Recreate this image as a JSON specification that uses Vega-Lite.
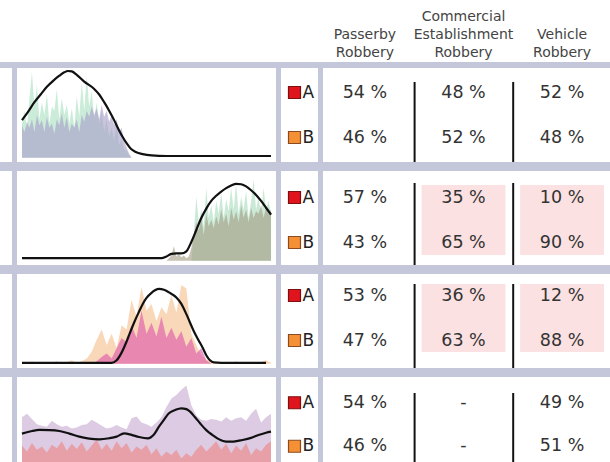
{
"$schema": "https://vega.github.io/schema/vega-lite/v6.json",
"background": "#c4c7d9",
"padding": 0,
"config": {"view": {"fill": "white", "stroke": null}, "font": "DejaVu Sans"},
"datasets": {
"a1": [
{"x":0,"1b":38,"1a":40},{"x":1,"1b":30,"1a":55},{"x":2,"1b":42,"1a":35},{"x":3,"1b":35,"1a":70},{"x":4,"1b":45,"1a":100},
{"x":5,"1b":30,"1a":60},{"x":6,"1b":50,"1a":85},{"x":7,"1b":38,"1a":45},{"x":8,"1b":44,"1a":65},{"x":9,"1b":30,"1a":50},
{"x":10,"1b":48,"1a":75},{"x":11,"1b":35,"1a":40},{"x":12,"1b":40,"1a":60},{"x":13,"1b":28,"1a":55},{"x":14,"1b":45,"1a":80},
{"x":15,"1b":38,"1a":45},{"x":16,"1b":52,"1a":70},{"x":17,"1b":35,"1a":50},{"x":18,"1b":48,"1a":62},{"x":19,"1b":30,"1a":40},
{"x":20,"1b":40,"1a":58},{"x":21,"1b":35,"1a":35},{"x":22,"1b":45,"1a":72},{"x":23,"1b":30,"1a":48},{"x":24,"1b":50,"1a":88},
{"x":25,"1b":42,"1a":55},{"x":26,"1b":55,"1a":95},{"x":27,"1b":48,"1a":60},{"x":28,"1b":60,"1a":78},{"x":29,"1b":50,"1a":45},
{"x":30,"1b":58,"1a":65},{"x":31,"1b":45,"1a":40},{"x":32,"1b":62,"1a":55},{"x":33,"1b":48,"1a":30},{"x":34,"1b":55,"1a":45},
{"x":35,"1b":42,"1a":25},{"x":36,"1b":50,"1a":35},{"x":37,"1b":38,"1a":20},{"x":38,"1b":45,"1a":42},{"x":39,"1b":30,"1a":15},
{"x":40,"1b":35,"1a":22},{"x":41,"1b":20,"1a":10},{"x":42,"1b":12,"1a":8},{"x":43,"1b":5,"1a":3},{"x":44,"1b":0,"1a":0}
],
"c1": [
{"x":0,"v":44},{"x":2.5,"v":54},{"x":5,"v":65},{"x":7.5,"v":74},{"x":10,"v":83},{"x":12.5,"v":90},{"x":15,"v":96},{"x":17,"v":100},
{"x":18.5,"v":101.5},{"x":20,"v":101},{"x":22,"v":97},{"x":25,"v":89},{"x":29,"v":80.5},{"x":31,"v":74},{"x":33,"v":65},{"x":35,"v":55},
{"x":37,"v":44},{"x":39,"v":32},{"x":40.5,"v":24},{"x":42,"v":17},{"x":43.7,"v":10.5},{"x":45.7,"v":6.7},{"x":48.5,"v":4.2},{"x":52,"v":2.7},
{"x":58,"v":2},{"x":100,"v":2}
],
"a2": [
{"x":58,"2a":0,"2b":0},{"x":59,"2a":0,"2b":3},{"x":60,"2a":0,"2b":6},{"x":61,"2a":0,"2b":17},{"x":62,"2a":0,"2b":5},
{"x":63,"2a":0,"2b":8},{"x":64,"2a":0,"2b":4},{"x":65,"2a":0,"2b":6},{"x":66,"2a":0,"2b":3},{"x":67,"2a":0,"2b":5},
{"x":68,"2a":0,"2b":15},{"x":69,"2a":30,"2b":30},{"x":70,"2a":75,"2b":45},{"x":71,"2a":45,"2b":35},{"x":72,"2a":60,"2b":50},
{"x":73,"2a":40,"2b":30},{"x":74,"2a":85,"2b":55},{"x":75,"2a":50,"2b":40},{"x":76,"2a":65,"2b":48},{"x":77,"2a":45,"2b":38},
{"x":78,"2a":70,"2b":52},{"x":79,"2a":55,"2b":42},{"x":80,"2a":80,"2b":60},{"x":81,"2a":50,"2b":45},{"x":82,"2a":72,"2b":55},
{"x":83,"2a":58,"2b":40},{"x":84,"2a":85,"2b":62},{"x":85,"2a":60,"2b":48},{"x":86,"2a":90,"2b":58},{"x":87,"2a":55,"2b":45},
{"x":88,"2a":75,"2b":65},{"x":89,"2a":60,"2b":50},{"x":90,"2a":82,"2b":60},{"x":91,"2a":50,"2b":45},{"x":92,"2a":70,"2b":62},
{"x":93,"2a":95,"2b":50},{"x":94,"2a":60,"2b":58},{"x":95,"2a":75,"2b":55},{"x":96,"2a":55,"2b":65},{"x":97,"2a":85,"2b":50},
{"x":98,"2a":60,"2b":62},{"x":99,"2a":70,"2b":55},{"x":100,"2a":55,"2b":60}
],
"c2": [
{"x":0,"v":3},{"x":56,"v":3},{"x":58,"v":5},{"x":60,"v":8},{"x":62,"v":8.5},{"x":64,"v":8.5},{"x":66,"v":11},{"x":68,"v":22},
{"x":70,"v":36},{"x":72,"v":50},{"x":74,"v":61},{"x":76,"v":70},{"x":78,"v":76},{"x":80,"v":81},{"x":82,"v":85},{"x":84,"v":88},
{"x":86,"v":90},{"x":88,"v":89.5},{"x":90,"v":87},{"x":92,"v":82.5},{"x":94,"v":77},{"x":96,"v":70},{"x":98,"v":62},{"x":100,"v":54}
],
"a3": [
{"x":0,"3a":1,"3b":0},{"x":2,"3a":0,"3b":0},{"x":4,"3a":3,"3b":0},{"x":6,"3a":0,"3b":0},{"x":8,"3a":2,"3b":0},
{"x":10,"3a":0,"3b":0},{"x":12,"3a":1,"3b":0},{"x":14,"3a":3,"3b":0},{"x":16,"3a":0,"3b":0},{"x":18,"3a":2,"3b":0},
{"x":20,"3a":4,"3b":0},{"x":22,"3a":1,"3b":0},{"x":24,"3a":3,"3b":0},{"x":26,"3a":6,"3b":0},{"x":28,"3a":14,"3b":0},
{"x":30,"3a":28,"3b":3},{"x":32,"3a":40,"3b":8},{"x":34,"3a":22,"3b":12},{"x":36,"3a":35,"3b":6},{"x":38,"3a":18,"3b":18},
{"x":40,"3a":45,"3b":30},{"x":42,"3a":40,"3b":25},{"x":44,"3a":75,"3b":45},{"x":46,"3a":55,"3b":30},{"x":48,"3a":90,"3b":62},
{"x":50,"3a":62,"3b":35},{"x":52,"3a":70,"3b":48},{"x":54,"3a":50,"3b":32},{"x":56,"3a":66,"3b":55},{"x":58,"3a":58,"3b":30},
{"x":60,"3a":80,"3b":42},{"x":62,"3a":60,"3b":28},{"x":64,"3a":92,"3b":38},{"x":66,"3a":88,"3b":20},{"x":68,"3a":35,"3b":30},
{"x":70,"3a":22,"3b":12},{"x":72,"3a":10,"3b":18},{"x":74,"3a":5,"3b":4},{"x":76,"3a":3,"3b":0},{"x":78,"3a":1,"3b":0},
{"x":80,"3a":2,"3b":0},{"x":82,"3a":0,"3b":0},{"x":84,"3a":1,"3b":0},{"x":86,"3a":3,"3b":0},{"x":88,"3a":0,"3b":0},
{"x":90,"3a":2,"3b":0},{"x":92,"3a":1,"3b":0},{"x":94,"3a":0,"3b":0},{"x":96,"3a":2,"3b":0},{"x":98,"3a":4,"3b":0},{"x":100,"3a":1,"3b":0}
],
"c3": [
{"x":0,"v":1},{"x":36,"v":1},{"x":38,"v":4},{"x":40,"v":13},{"x":42,"v":26},{"x":43.2,"v":35},{"x":45,"v":48},{"x":47,"v":61},
{"x":48.5,"v":70},{"x":50,"v":77},{"x":52,"v":83},{"x":55,"v":87.5},{"x":57,"v":86.5},{"x":59,"v":83.5},{"x":62,"v":77.5},
{"x":64,"v":70},{"x":66,"v":58},{"x":67.2,"v":50},{"x":69,"v":38},{"x":71,"v":27},{"x":72.5,"v":19},{"x":74,"v":10},
{"x":75.5,"v":4},{"x":77,"v":1.5},{"x":80,"v":1},{"x":98,"v":1}
],
"a4": [
{"x":0,"4a":58,"4b":25},{"x":2,"4a":62,"4b":18},{"x":4,"4a":56,"4b":28},{"x":6,"4a":50,"4b":20},{"x":8,"4a":48,"4b":24},
{"x":10,"4a":47,"4b":17},{"x":12,"4a":54,"4b":26},{"x":14,"4a":50,"4b":22},{"x":16,"4a":47,"4b":30},{"x":18,"4a":48,"4b":19},
{"x":20,"4a":45,"4b":27},{"x":22,"4a":46,"4b":21},{"x":24,"4a":49,"4b":29},{"x":26,"4a":50,"4b":18},{"x":28,"4a":55,"4b":25},
{"x":30,"4a":52,"4b":32},{"x":32,"4a":48,"4b":20},{"x":34,"4a":45,"4b":27},{"x":36,"4a":46,"4b":19},{"x":38,"4a":49,"4b":30},
{"x":40,"4a":46,"4b":22},{"x":42,"4a":44,"4b":28},{"x":44,"4a":57,"4b":17},{"x":46,"4a":59,"4b":24},{"x":48,"4a":52,"4b":20},
{"x":50,"4a":50,"4b":26},{"x":52,"4a":47,"4b":15},{"x":54,"4a":52,"4b":22},{"x":56,"4a":58,"4b":12},{"x":58,"4a":70,"4b":18},
{"x":60,"4a":80,"4b":14},{"x":62,"4a":84,"4b":20},{"x":64,"4a":90,"4b":10},{"x":66,"4a":95,"4b":16},{"x":68,"4a":72,"4b":12},
{"x":70,"4a":60,"4b":20},{"x":72,"4a":55,"4b":26},{"x":74,"4a":54,"4b":18},{"x":76,"4a":56,"4b":24},{"x":78,"4a":55,"4b":30},
{"x":80,"4a":53,"4b":20},{"x":82,"4a":58,"4b":27},{"x":84,"4a":54,"4b":16},{"x":86,"4a":57,"4b":25},{"x":88,"4a":58,"4b":19},
{"x":90,"4a":54,"4b":28},{"x":92,"4a":62,"4b":14},{"x":94,"4a":68,"4b":22},{"x":96,"4a":52,"4b":18},{"x":98,"4a":58,"4b":26},{"x":100,"4a":62,"4b":30}
],
"c4": [
{"x":0,"v":39},{"x":4,"v":42},{"x":7,"v":43.2},{"x":11,"v":43},{"x":15,"v":42},{"x":19,"v":39},{"x":23,"v":35.4},{"x":27,"v":33},
{"x":31,"v":32.3},{"x":35,"v":33.5},{"x":38,"v":35.4},{"x":41,"v":39.3},{"x":44,"v":37.5},{"x":47,"v":35},{"x":50.5,"v":33.5},
{"x":53,"v":38},{"x":55,"v":47},{"x":57,"v":55},{"x":59,"v":62.7},{"x":61.5,"v":66.5},{"x":64,"v":68.5},{"x":66,"v":67.5},
{"x":67.5,"v":64.6},{"x":69.5,"v":58},{"x":71.5,"v":51},{"x":74,"v":43},{"x":76.5,"v":37.3},{"x":79,"v":32.5},{"x":82,"v":29.5},
{"x":85,"v":29.7},{"x":88.5,"v":31.5},{"x":92,"v":34},{"x":95,"v":37.3},{"x":98,"v":40},{"x":100,"v":41.2}
],
"tbl": [
{"r":1,"c":"Passerby Robbery","g":"A","t":"54 %"},{"r":1,"c":"Passerby Robbery","g":"B","t":"46 %"},
{"r":1,"c":"Commercial Establishment Robbery","g":"A","t":"48 %"},{"r":1,"c":"Commercial Establishment Robbery","g":"B","t":"52 %"},
{"r":1,"c":"Vehicle Robbery","g":"A","t":"52 %"},{"r":1,"c":"Vehicle Robbery","g":"B","t":"48 %"},
{"r":2,"c":"Passerby Robbery","g":"A","t":"57 %"},{"r":2,"c":"Passerby Robbery","g":"B","t":"43 %"},
{"r":2,"c":"Commercial Establishment Robbery","g":"A","t":"35 %","hl":true},{"r":2,"c":"Commercial Establishment Robbery","g":"B","t":"65 %","hl":true},
{"r":2,"c":"Vehicle Robbery","g":"A","t":"10 %","hl":true},{"r":2,"c":"Vehicle Robbery","g":"B","t":"90 %","hl":true},
{"r":3,"c":"Passerby Robbery","g":"A","t":"53 %"},{"r":3,"c":"Passerby Robbery","g":"B","t":"47 %"},
{"r":3,"c":"Commercial Establishment Robbery","g":"A","t":"36 %","hl":true},{"r":3,"c":"Commercial Establishment Robbery","g":"B","t":"63 %","hl":true},
{"r":3,"c":"Vehicle Robbery","g":"A","t":"12 %","hl":true},{"r":3,"c":"Vehicle Robbery","g":"B","t":"88 %","hl":true},
{"r":4,"c":"Passerby Robbery","g":"A","t":"54 %"},{"r":4,"c":"Passerby Robbery","g":"B","t":"46 %"},
{"r":4,"c":"Commercial Establishment Robbery","g":"A","t":"-"},{"r":4,"c":"Commercial Establishment Robbery","g":"B","t":"-"},
{"r":4,"c":"Vehicle Robbery","g":"A","t":"49 %"},{"r":4,"c":"Vehicle Robbery","g":"B","t":"51 %"}
],
"hdr": [
{"c":"Passerby Robbery","w":"Passerby","ln":1},{"c":"Passerby Robbery","w":"Robbery","ln":0},
{"c":"Commercial Establishment Robbery","w":"Commercial","ln":2},{"c":"Commercial Establishment Robbery","w":"Establishment","ln":1},
{"c":"Commercial Establishment Robbery","w":"Robbery","ln":0},
{"c":"Vehicle Robbery","w":"Vehicle","ln":1},{"c":"Vehicle Robbery","w":"Robbery","ln":0}
],
"lg": [{"g":"A"},{"g":"B"}],
"blank": [{}]
},
"spacing": 4,
"vconcat": [
{"spacing": 0, "hconcat": [
  {"width": 323, "height": 62, "data": {"name": "blank"}, "mark": {"type": "rect", "color": "white"}, "encoding": {}},
  {"width": 287, "height": 62, "data": {"name": "hdr"},
   "mark": {"type": "text", "baseline": "middle", "fontSize": 14, "font": "DejaVu Sans", "color": "#444444"},
   "encoding": {"x": {"field": "c", "type": "nominal", "scale": {"type": "band", "domain": ["Passerby Robbery","Commercial Establishment Robbery","Vehicle Robbery"], "range": [0, 281], "paddingInner": 0.15, "paddingOuter": 0}, "axis": null},
                "y": {"field": "ln", "type": "ordinal", "scale": {"type": "point", "domain": [2, 1, 0], "range": [17, 53], "padding": 0}, "axis": null},
                "text": {"field": "w"}}}
]},
{"spacing": 8, "vconcat": [
 {"spacing": 5, "hconcat": [
  {"width": 12, "height": 94, "data": {"name": "blank"}, "mark": {"type": "rect", "color": "white"}, "encoding": {}},
  {"width": 259, "height": 94, "layer": [
    {"data": {"name": "a1"}, "transform": [{"fold": ["1a","1b"], "as": ["s","v"]}],
     "mark": {"type": "area", "opacity": 0.6},
     "encoding": {"x": {"field": "x", "type": "quantitative", "scale": {"domain": [-2, 102], "nice": false}, "axis": null},
                  "y": {"field": "v", "type": "quantitative", "stack": null, "scale": {"domain": [-5, 105], "nice": false}, "axis": null},
                  "color": {"field": "s", "type": "nominal", "legend": null, "scale": {"domain": ["1a","1b","2a","2b","3a","3b","4a","4b"], "range": ["#a8e0c0","#a89cc8","#a6dcbc","#a29a80","#f5bd8a","#dc52aa","#c5a8d0","#f08381"]}}}},
    {"data": {"name": "c1"}, "mark": {"type": "line", "color": "#111111", "strokeWidth": 2.2, "interpolate": "monotone"},
     "encoding": {"x": {"field": "x", "type": "quantitative"}, "y": {"field": "v", "type": "quantitative"}}}
  ]},
  {"width": 37, "height": 94, "data": {"name": "lg"}, "layer": [
    {"mark": {"type": "point", "shape": "square", "size": 144, "filled": true, "opacity": 1, "strokeWidth": 1.2, "xOffset": -5},
     "encoding": {"y": {"field": "g", "type": "nominal", "scale": {"domain": ["A","B"], "range": [2, 92], "padding": 0.5}, "axis": null},
                  "fill": {"field": "g", "type": "nominal", "legend": null, "scale": {"domain": ["A","B"], "range": ["#e0141d","#f59035"]}},
                  "stroke": {"field": "g", "type": "nominal", "legend": null, "scale": {"domain": ["A","B"], "range": ["#7b1010","#8a4b20"]}}}},
    {"mark": {"type": "text", "align": "left", "dx": 3, "fontSize": 17, "font": "DejaVu Sans", "color": "#222222"},
     "encoding": {"y": {"field": "g", "type": "nominal"}, "text": {"field": "g"}}}
  ]},
  {"width": 287, "height": 94, "data": {"name": "tbl"}, "transform": [{"filter": "datum.r == 1"}],
   "encoding": {"x": {"field": "c", "type": "nominal", "scale": {"type": "band", "domain": ["Passerby Robbery","Commercial Establishment Robbery","Vehicle Robbery"], "range": [0, 281], "paddingInner": 0.15, "paddingOuter": 0}, "axis": null}},
   "layer": [
    {"transform": [{"filter": "datum.g == 'A' && datum.c != 'Passerby Robbery'"}], "mark": {"type": "rule", "color": "#111111", "strokeWidth": 2, "xOffset": -7, "yOffset": 14, "y2Offset": -13},
     "encoding": {"x": {"field": "c", "type": "nominal", "bandPosition": 0}}},
    {"mark": {"type": "text", "fontSize": 17.5, "font": "DejaVu Sans", "color": "#333333"},
     "encoding": {"y": {"field": "g", "type": "nominal", "scale": {"domain": ["A","B"], "range": [2, 92], "padding": 0.5}, "axis": null}, "text": {"field": "t"}}}
   ]}
 ]},
 {"spacing": 5, "hconcat": [
  {"width": 12, "height": 94, "data": {"name": "blank"}, "mark": {"type": "rect", "color": "white"}, "encoding": {}},
  {"width": 259, "height": 94, "layer": [
    {"data": {"name": "a2"}, "transform": [{"fold": ["2a","2b"], "as": ["s","v"]}],
     "mark": {"type": "area", "opacity": 0.6},
     "encoding": {"x": {"field": "x", "type": "quantitative", "scale": {"domain": [-2, 102], "nice": false}, "axis": null},
                  "y": {"field": "v", "type": "quantitative", "stack": null, "scale": {"domain": [-5, 105], "nice": false}, "axis": null},
                  "color": {"field": "s", "type": "nominal", "legend": null, "scale": {"domain": ["1a","1b","2a","2b","3a","3b","4a","4b"], "range": ["#a8e0c0","#a89cc8","#a6dcbc","#a29a80","#f5bd8a","#dc52aa","#c5a8d0","#f08381"]}}}},
    {"data": {"name": "c2"}, "mark": {"type": "line", "color": "#111111", "strokeWidth": 2.2, "interpolate": "monotone"},
     "encoding": {"x": {"field": "x", "type": "quantitative"}, "y": {"field": "v", "type": "quantitative"}}}
  ]},
  {"width": 37, "height": 94, "data": {"name": "lg"}, "layer": [
    {"mark": {"type": "point", "shape": "square", "size": 144, "filled": true, "opacity": 1, "strokeWidth": 1.2, "xOffset": -5},
     "encoding": {"y": {"field": "g", "type": "nominal", "scale": {"domain": ["A","B"], "range": [4, 94], "padding": 0.5}, "axis": null},
                  "fill": {"field": "g", "type": "nominal", "legend": null, "scale": {"domain": ["A","B"], "range": ["#e0141d","#f59035"]}},
                  "stroke": {"field": "g", "type": "nominal", "legend": null, "scale": {"domain": ["A","B"], "range": ["#7b1010","#8a4b20"]}}}},
    {"mark": {"type": "text", "align": "left", "dx": 3, "fontSize": 17, "font": "DejaVu Sans", "color": "#222222"},
     "encoding": {"y": {"field": "g", "type": "nominal"}, "text": {"field": "g"}}}
  ]},
  {"width": 287, "height": 94, "data": {"name": "tbl"}, "transform": [{"filter": "datum.r == 2"}],
   "encoding": {"x": {"field": "c", "type": "nominal", "scale": {"type": "band", "domain": ["Passerby Robbery","Commercial Establishment Robbery","Vehicle Robbery"], "range": [0, 281], "paddingInner": 0.15, "paddingOuter": 0}, "axis": null}},
   "resolve": {"scale": {"y": "independent"}},
   "layer": [
    {"transform": [{"filter": "datum.hl"}], "mark": {"type": "rect", "color": "#fbe1e1"},
     "encoding": {"y": {"field": "g", "type": "nominal", "scale": {"type": "band", "domain": ["A","B"], "range": [14, 84], "paddingInner": 0, "paddingOuter": 0}, "axis": null}}},
    {"transform": [{"filter": "datum.g == 'A' && datum.c != 'Passerby Robbery'"}], "mark": {"type": "rule", "color": "#111111", "strokeWidth": 2, "xOffset": -7, "yOffset": 12, "y2Offset": -15},
     "encoding": {"x": {"field": "c", "type": "nominal", "bandPosition": 0}}},
    {"mark": {"type": "text", "fontSize": 17.5, "font": "DejaVu Sans", "color": "#333333"},
     "encoding": {"y": {"field": "g", "type": "nominal", "scale": {"domain": ["A","B"], "range": [4, 94], "padding": 0.5}, "axis": null}, "text": {"field": "t"}}}
   ]}
 ]},
 {"spacing": 5, "hconcat": [
  {"width": 12, "height": 94, "data": {"name": "blank"}, "mark": {"type": "rect", "color": "white"}, "encoding": {}},
  {"width": 259, "height": 94, "layer": [
    {"data": {"name": "a3"}, "transform": [{"fold": ["3a","3b"], "as": ["s","v"]}],
     "mark": {"type": "area", "opacity": 0.6},
     "encoding": {"x": {"field": "x", "type": "quantitative", "scale": {"domain": [-2, 102], "nice": false}, "axis": null},
                  "y": {"field": "v", "type": "quantitative", "stack": null, "scale": {"domain": [-5, 105], "nice": false}, "axis": null},
                  "color": {"field": "s", "type": "nominal", "legend": null, "scale": {"domain": ["1a","1b","2a","2b","3a","3b","4a","4b"], "range": ["#a8e0c0","#a89cc8","#a6dcbc","#a29a80","#f5bd8a","#dc52aa","#c5a8d0","#f08381"]}}}},
    {"data": {"name": "c3"}, "mark": {"type": "line", "color": "#111111", "strokeWidth": 2.2, "interpolate": "monotone"},
     "encoding": {"x": {"field": "x", "type": "quantitative"}, "y": {"field": "v", "type": "quantitative"}}}
  ]},
  {"width": 37, "height": 94, "data": {"name": "lg"}, "layer": [
    {"mark": {"type": "point", "shape": "square", "size": 144, "filled": true, "opacity": 1, "strokeWidth": 1.2, "xOffset": -5},
     "encoding": {"y": {"field": "g", "type": "nominal", "scale": {"domain": ["A","B"], "range": [-1, 89], "padding": 0.5}, "axis": null},
                  "fill": {"field": "g", "type": "nominal", "legend": null, "scale": {"domain": ["A","B"], "range": ["#e0141d","#f59035"]}},
                  "stroke": {"field": "g", "type": "nominal", "legend": null, "scale": {"domain": ["A","B"], "range": ["#7b1010","#8a4b20"]}}}},
    {"mark": {"type": "text", "align": "left", "dx": 3, "fontSize": 17, "font": "DejaVu Sans", "color": "#222222"},
     "encoding": {"y": {"field": "g", "type": "nominal"}, "text": {"field": "g"}}}
  ]},
  {"width": 287, "height": 94, "data": {"name": "tbl"}, "transform": [{"filter": "datum.r == 3"}],
   "encoding": {"x": {"field": "c", "type": "nominal", "scale": {"type": "band", "domain": ["Passerby Robbery","Commercial Establishment Robbery","Vehicle Robbery"], "range": [0, 281], "paddingInner": 0.15, "paddingOuter": 0}, "axis": null}},
   "resolve": {"scale": {"y": "independent"}},
   "layer": [
    {"transform": [{"filter": "datum.hl"}], "mark": {"type": "rect", "color": "#fbe1e1"},
     "encoding": {"y": {"field": "g", "type": "nominal", "scale": {"type": "band", "domain": ["A","B"], "range": [10, 78], "paddingInner": 0, "paddingOuter": 0}, "axis": null}}},
    {"transform": [{"filter": "datum.g == 'A' && datum.c != 'Passerby Robbery'"}], "mark": {"type": "rule", "color": "#111111", "strokeWidth": 2, "xOffset": -7, "yOffset": 10, "y2Offset": -17},
     "encoding": {"x": {"field": "c", "type": "nominal", "bandPosition": 0}}},
    {"mark": {"type": "text", "fontSize": 17.5, "font": "DejaVu Sans", "color": "#333333"},
     "encoding": {"y": {"field": "g", "type": "nominal", "scale": {"domain": ["A","B"], "range": [-1, 89], "padding": 0.5}, "axis": null}, "text": {"field": "t"}}}
   ]}
 ]},
 {"spacing": 5, "hconcat": [
  {"width": 12, "height": 90, "data": {"name": "blank"}, "mark": {"type": "rect", "color": "white"}, "encoding": {}},
  {"width": 259, "height": 90, "layer": [
    {"data": {"name": "a4"}, "transform": [{"fold": ["4a","4b"], "as": ["s","v"]}],
     "mark": {"type": "area", "opacity": 0.6},
     "encoding": {"x": {"field": "x", "type": "quantitative", "scale": {"domain": [-2, 102], "nice": false}, "axis": null},
                  "y": {"field": "v", "type": "quantitative", "stack": null, "scale": {"domain": [0, 105], "nice": false}, "axis": null},
                  "color": {"field": "s", "type": "nominal", "legend": null, "scale": {"domain": ["1a","1b","2a","2b","3a","3b","4a","4b"], "range": ["#a8e0c0","#a89cc8","#a6dcbc","#a29a80","#f5bd8a","#dc52aa","#c5a8d0","#f08381"]}}}},
    {"data": {"name": "c4"}, "mark": {"type": "line", "color": "#111111", "strokeWidth": 2.2, "interpolate": "monotone"},
     "encoding": {"x": {"field": "x", "type": "quantitative"}, "y": {"field": "v", "type": "quantitative"}}}
  ]},
  {"width": 37, "height": 90, "data": {"name": "lg"}, "layer": [
    {"mark": {"type": "point", "shape": "square", "size": 144, "filled": true, "opacity": 1, "strokeWidth": 1.2, "xOffset": -5},
     "encoding": {"y": {"field": "g", "type": "nominal", "scale": {"domain": ["A","B"], "range": [4, 91], "padding": 0.5}, "axis": null},
                  "fill": {"field": "g", "type": "nominal", "legend": null, "scale": {"domain": ["A","B"], "range": ["#e0141d","#f59035"]}},
                  "stroke": {"field": "g", "type": "nominal", "legend": null, "scale": {"domain": ["A","B"], "range": ["#7b1010","#8a4b20"]}}}},
    {"mark": {"type": "text", "align": "left", "dx": 3, "fontSize": 17, "font": "DejaVu Sans", "color": "#222222"},
     "encoding": {"y": {"field": "g", "type": "nominal"}, "text": {"field": "g"}}}
  ]},
  {"width": 287, "height": 90, "data": {"name": "tbl"}, "transform": [{"filter": "datum.r == 4"}],
   "encoding": {"x": {"field": "c", "type": "nominal", "scale": {"type": "band", "domain": ["Passerby Robbery","Commercial Establishment Robbery","Vehicle Robbery"], "range": [0, 281], "paddingInner": 0.15, "paddingOuter": 0}, "axis": null}},
   "layer": [
    {"transform": [{"filter": "datum.g == 'A' && datum.c != 'Passerby Robbery'"}], "mark": {"type": "rule", "color": "#111111", "strokeWidth": 2, "xOffset": -7, "yOffset": 16, "y2Offset": -7},
     "encoding": {"x": {"field": "c", "type": "nominal", "bandPosition": 0}}},
    {"mark": {"type": "text", "fontSize": 17.5, "font": "DejaVu Sans", "color": "#333333"},
     "encoding": {"y": {"field": "g", "type": "nominal", "scale": {"domain": ["A","B"], "range": [4, 91], "padding": 0.5}, "axis": null}, "text": {"field": "t"}}}
   ]}
 ]}
]}
]
}
